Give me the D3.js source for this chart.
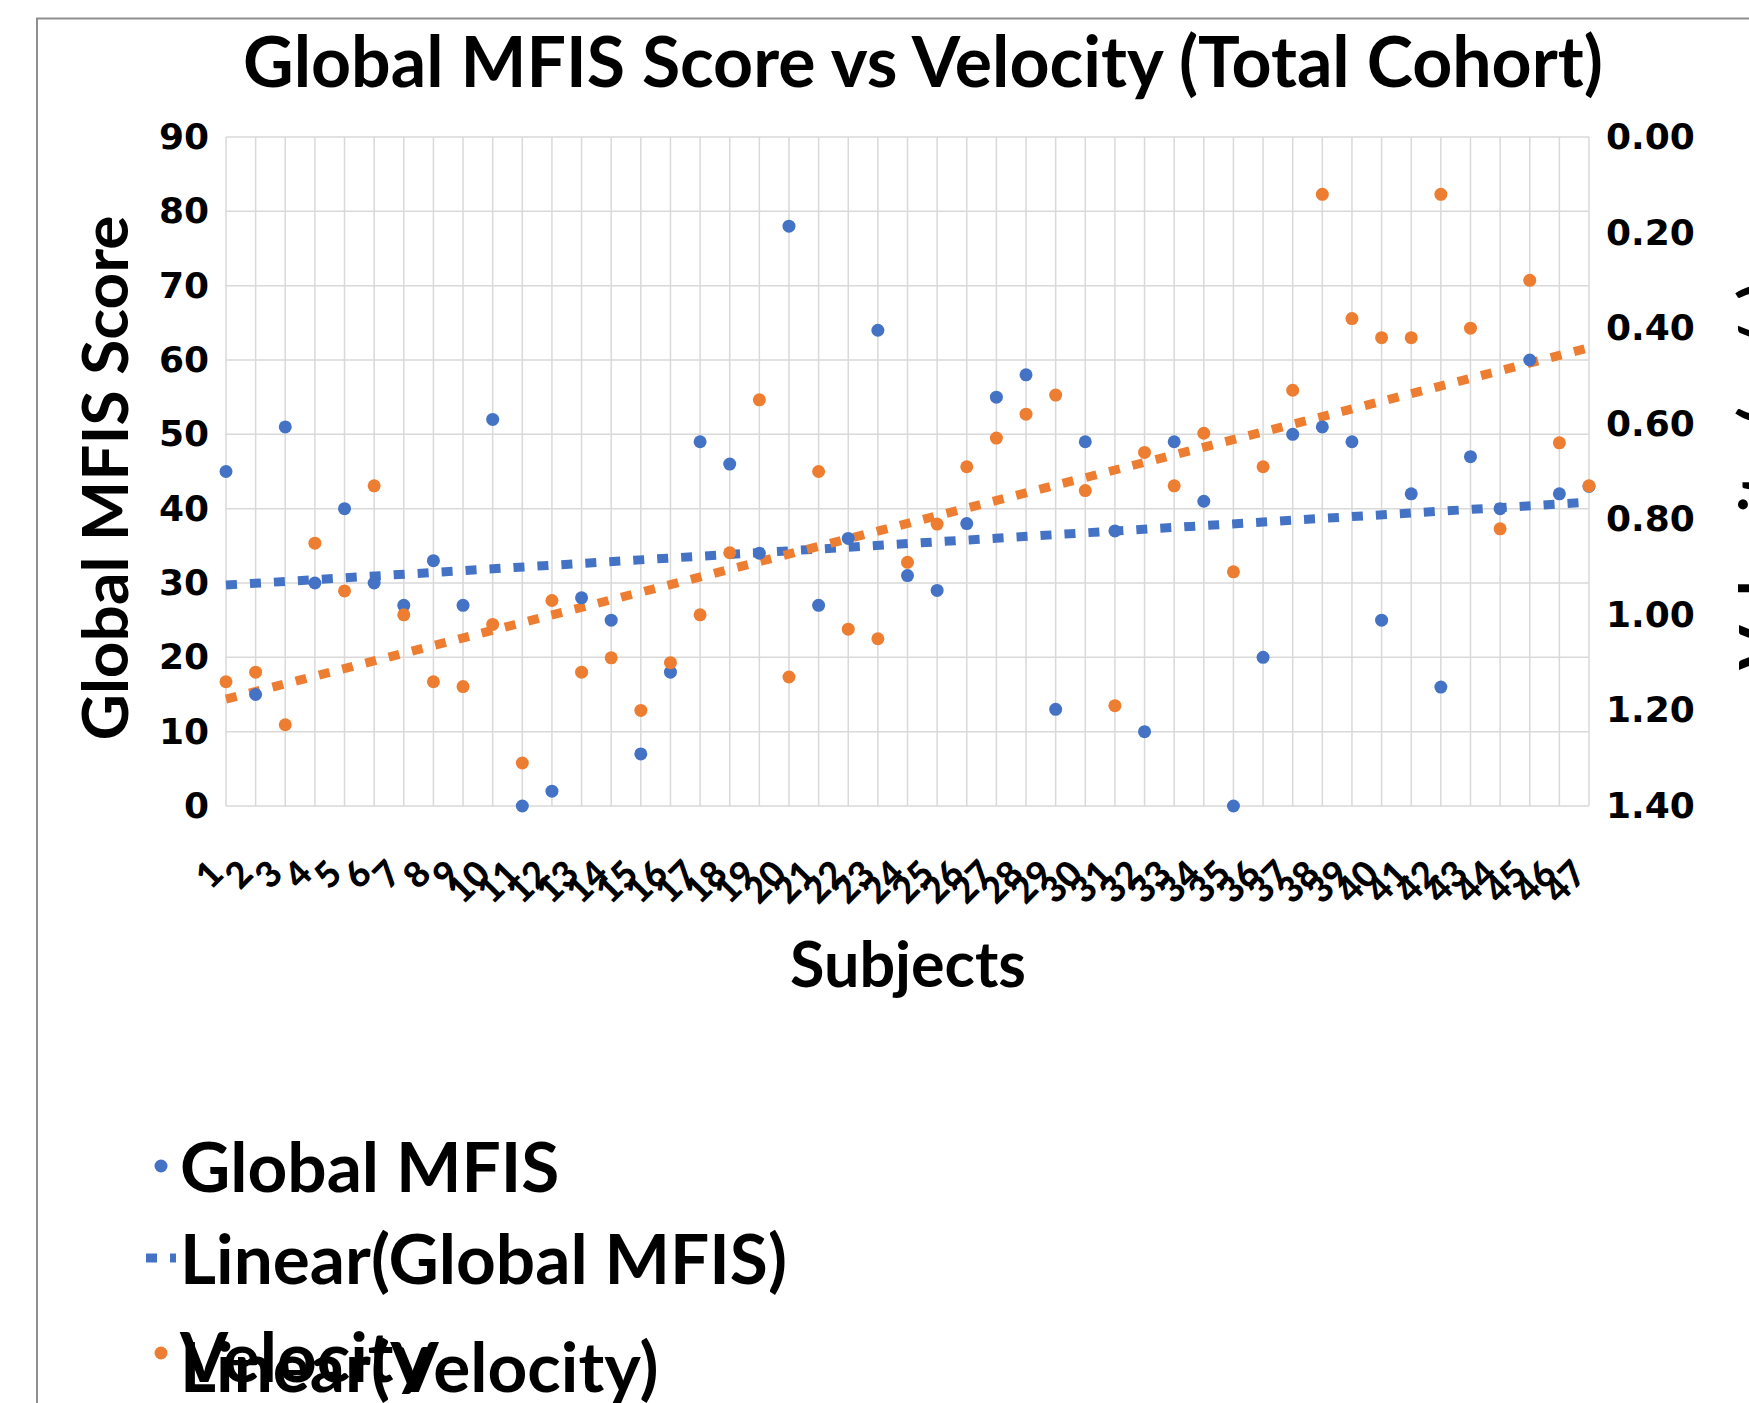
<!DOCTYPE html>
<html>
<head>
<meta charset="utf-8">
<script src="https://cdn.jsdelivr.net/npm/d3@7"></script>
<style>
  html, body { margin: 0; padding: 0; background: #fff; overflow: hidden; }
  svg { display: block; }
</style>
</head>
<body>
<svg width="1749" height="1403"></svg>
<script>
var subjects = d3.range(1, 48);
var mfis = [45, 15, 51, 30, 40, 30, 27, 33, 27, 52, 0, 2, 28, 25, 7, 18, 49, 46, 34, 78,
            27, 36, 64, 31, 29, 38, 55, 58, 13, 49, 37, 10, 49, 41, 0, 20, 50, 51, 49, 25,
            42, 16, 47, 40, 60, 42, 43];
var velocity = [1.14, 1.12, 1.23, 0.85, 0.95, 0.73, 1.00, 1.14, 1.15, 1.02, 1.31, 0.97, 1.12, 1.09, 1.20, 1.10, 1.00, 0.87, 0.55, 1.13,
                0.70, 1.03, 1.05, 0.89, 0.81, 0.69, 0.63, 0.58, 0.54, 0.74, 1.19, 0.66, 0.73, 0.62, 0.91, 0.69, 0.53, 0.12, 0.38, 0.42,
                0.42, 0.12, 0.40, 0.82, 0.30, 0.64, 0.73];
var leftTicks = [0, 10, 20, 30, 40, 50, 60, 70, 80, 90];
var rightTicks = [0, 0.2, 0.4, 0.6, 0.8, 1.0, 1.2, 1.4];
var legendLabels = ["Global MFIS", "Linear(Global MFIS)", "Velocity", "Linear(Velocity)"];

var blue = "#4472C4", orange = "#ED7D31";
var textFont = "Lato, 'Open Sans', sans-serif";
var tickFont = "'DejaVu Sans', Verdana, sans-serif";

var svg = d3.select("svg");

// fit a text element to a given width
function fitWidth(sel, w) {
  var len = sel.node().getComputedTextLength();
  var fs = parseFloat(sel.attr("font-size"));
  sel.attr("font-size", fs * w / len);
  return fs * w / len;
}

// least squares line
function linearFit(xs, ys) {
  var mx = d3.mean(xs), my = d3.mean(ys);
  var sxy = d3.sum(xs, function(d, i) { return (d - mx) * (ys[i] - my); });
  var sxx = d3.sum(xs, function(d) { return (d - mx) * (d - mx); });
  var b = sxy / sxx;
  return function(x) { return my + b * (x - mx); };
}

var plotLeft = 226, plotRight = 1589, plotTop = 137, plotBottom = 806;

var x = d3.scalePoint().domain(subjects).range([plotLeft, plotRight]);
var y = d3.scaleLinear().domain([0, 90]).range([plotBottom, plotTop]);
var v = d3.scaleLinear().domain([0, 1.4]).range([plotTop, plotBottom]);

// chart border
svg.append("rect")
    .attr("x", 37).attr("y", 18.5)
    .attr("width", 1800).attr("height", 1500)
    .attr("fill", "none")
    .attr("stroke", "#8f8f8f")
    .attr("stroke-width", 2);

// title
var title = svg.append("text")
    .attr("x", 923).attr("y", 87)
    .attr("text-anchor", "middle")
    .attr("font-family", textFont)
    .attr("font-weight", 700)
    .attr("font-size", 60)
    .attr("fill", "#000")
    .text("Global MFIS Score vs Velocity (Total Cohort)");
fitWidth(title, 1360);

// gridlines
var grid = svg.append("g").attr("stroke", "#d9d9d9").attr("stroke-width", 1.5);
grid.selectAll(".hg").data(leftTicks).enter().append("line")
    .attr("x1", plotLeft).attr("x2", plotRight)
    .attr("y1", function(d) { return y(d); })
    .attr("y2", function(d) { return y(d); });
grid.selectAll(".vg").data(subjects).enter().append("line")
    .attr("y1", plotTop).attr("y2", plotBottom)
    .attr("x1", function(d) { return x(d); })
    .attr("x2", function(d) { return x(d); });

// left axis
var gl = svg.append("g")
    .attr("transform", "translate(" + plotLeft + ",0)")
    .call(d3.axisLeft(y).tickValues(leftTicks).tickSize(0).tickPadding(17));
gl.select(".domain").remove();
gl.selectAll("text")
    .attr("font-family", tickFont)
    .attr("font-weight", "bold")
    .attr("font-size", 36)
    .attr("fill", "#000");

// right axis
var gr = svg.append("g")
    .attr("transform", "translate(" + plotRight + ",0)")
    .call(d3.axisRight(v).tickValues(rightTicks).tickSize(0).tickPadding(17).tickFormat(d3.format(".2f")));
gr.select(".domain").remove();
gr.selectAll("text")
    .attr("font-family", tickFont)
    .attr("font-weight", "bold")
    .attr("font-size", 36)
    .attr("fill", "#000");

// bottom axis, labels rotated
var gb = svg.append("g")
    .attr("transform", "translate(0," + plotBottom + ")")
    .call(d3.axisBottom(x).tickSize(0).tickPadding(0));
gb.select(".domain").remove();
gb.selectAll("text")
    .attr("x", 0).attr("y", 0).attr("dy", 0)
    .attr("text-anchor", "end")
    .attr("transform", "translate(-1,70) rotate(-45)")
    .attr("font-family", textFont)
    .attr("font-weight", 900)
    .attr("font-size", 36)
    .attr("fill", "#000");

// axis titles
var xt = svg.append("text")
    .attr("x", 908).attr("y", 987)
    .attr("text-anchor", "middle")
    .attr("font-family", textFont)
    .attr("font-weight", 700)
    .attr("font-size", 50)
    .text("Subjects");
fitWidth(xt, 236);

var yt = svg.append("text")
    .attr("transform", "translate(128,478) rotate(-90)")
    .attr("text-anchor", "middle")
    .attr("font-family", textFont)
    .attr("font-weight", 700)
    .attr("font-size", 50)
    .text("Global MFIS Score");
var ySize = fitWidth(yt, 525);

svg.append("text")
    .attr("transform", "translate(1785,476) rotate(-90)")
    .attr("text-anchor", "middle")
    .attr("font-family", textFont)
    .attr("font-weight", 700)
    .attr("font-size", ySize)
    .text("Velocity (m/s)");

// trend lines
var fitM = linearFit(subjects, mfis);
var fitV = linearFit(subjects, velocity);
var ends = [subjects[0], subjects[subjects.length - 1]];

svg.append("path")
    .datum(ends)
    .attr("fill", "none")
    .attr("stroke", blue)
    .attr("stroke-width", 9)
    .attr("stroke-dasharray", "11,13")
    .attr("d", d3.line().x(function(d) { return x(d); }).y(function(d) { return y(fitM(d)); }));

svg.append("path")
    .datum(ends)
    .attr("fill", "none")
    .attr("stroke", orange)
    .attr("stroke-width", 9)
    .attr("stroke-dasharray", "11,13")
    .attr("d", d3.line().x(function(d) { return x(d); }).y(function(d) { return v(fitV(d)); }));

// points
svg.append("g").selectAll("circle").data(mfis).enter().append("circle")
    .attr("cx", function(d, i) { return x(subjects[i]); })
    .attr("cy", function(d) { return y(d); })
    .attr("r", 6.5)
    .attr("fill", blue);

svg.append("g").selectAll("circle").data(velocity).enter().append("circle")
    .attr("cx", function(d, i) { return x(subjects[i]); })
    .attr("cy", function(d) { return v(d); })
    .attr("r", 6.5)
    .attr("fill", orange);

// legend
var legend = svg.append("g");
legend.append("circle").attr("cx", 161).attr("cy", 1166).attr("r", 6.5).attr("fill", blue);
legend.append("line")
    .attr("x1", 146).attr("x2", 176).attr("y1", 1258).attr("y2", 1258)
    .attr("stroke", blue).attr("stroke-width", 9).attr("stroke-dasharray", "11,13");
legend.append("circle").attr("cx", 161).attr("cy", 1353).attr("r", 6.5).attr("fill", orange);

var lg2 = legend.append("text")
    .attr("x", 180).attr("y", 1284)
    .attr("font-family", textFont)
    .attr("font-weight", 700)
    .attr("font-size", 60)
    .text(legendLabels[1]);
var legSize = fitWidth(lg2, 607);

var legY = [1192, 1284, 1382, 1392];
[0, 2, 3].forEach(function(i) {
  legend.append("text")
      .attr("x", 180).attr("y", legY[i])
      .attr("font-family", textFont)
      .attr("font-weight", 700)
      .attr("font-size", legSize)
      .text(legendLabels[i]);
});
</script>
</body>
</html>
